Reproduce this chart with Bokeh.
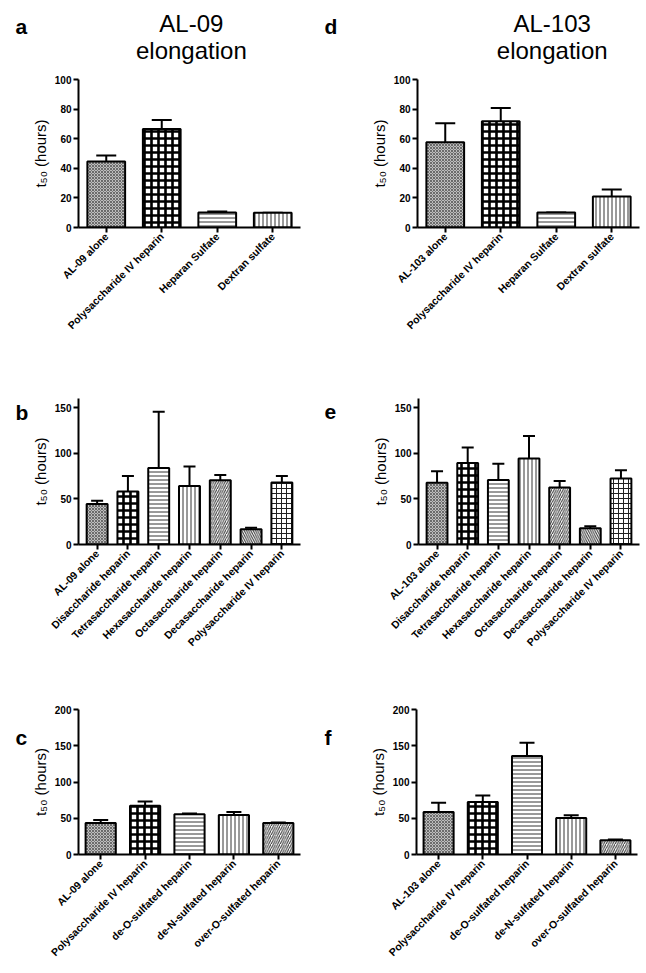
from math import pi
from bokeh.plotting import figure
from bokeh.models import ColumnDataSource, FactorRange, Range1d, Whisker, TeeHead, FixedTicker
from bokeh.core.properties import value
from bokeh.layouts import column, row
from bokeh.embed import file_html
from bokeh.resources import INLINE

FONT = "Liberation Sans"

# ---------------- data ----------------
a_cats = ["AL-09 alone", "Polysaccharide IV heparin", "Heparan Sulfate", "Dextran sulfate"]
a_vals = [44.6, 66.6, 10.2, 10.0]
a_errs = [4.0, 6.0, 0.6, 0.0]

d_cats = ["AL-103 alone", "Polysaccharide IV heparin", "Heparan Sulfate", "Dextran sulfate"]
d_vals = [57.6, 71.8, 10.2, 21.0]
d_errs = [12.8, 9.0, 0.0, 4.7]

b_cats = ["AL-09 alone", "Disaccharide heparin", "Tetrasaccharide heparin",
          "Hexasaccharide heparin", "Octasaccharide heparin", "Decasaccharide heparin",
          "Polysaccharide IV heparin"]
b_vals = [44.5, 58.2, 83.8, 64.0, 70.5, 16.6, 68.0]
b_errs = [3.5, 17.0, 61.8, 21.6, 5.8, 1.8, 7.2]

e_cats = ["AL-103 alone", "Disaccharide heparin", "Tetrasaccharide heparin",
          "Hexasaccharide heparin", "Octasaccharide heparin", "Decasaccharide heparin",
          "Polysaccharide IV heparin"]
e_vals = [67.6, 89.3, 70.8, 94.3, 62.5, 17.7, 72.3]
e_errs = [12.6, 16.9, 17.7, 24.6, 7.2, 2.2, 9.0]

c_cats = ["AL-09 alone", "Polysaccharide IV heparin", "de-O-sulfated heparin",
          "de-N-sulfated heparin", "over-O-sulfated heparin"]
c_vals = [43.6, 67.3, 55.5, 54.5, 43.6]
c_errs = [4.1, 5.9, 0.9, 4.1, 0.4]

f_cats = ["AL-103 alone", "Polysaccharide IV heparin", "de-O-sulfated heparin",
          "de-N-sulfated heparin", "over-O-sulfated heparin"]
f_vals = [58.6, 72.3, 135.9, 50.3, 19.7]
f_errs = [12.8, 9.2, 18.3, 3.7, 0.9]

ticks_100 = [0, 20, 40, 60, 80, 100]
ticks_150 = [0, 50, 100, 150]
ticks_200 = [0, 50, 100, 150, 200]

title_a = ["AL-09", "elongation"]
title_d = ["AL-103", "elongation"]

# bar pattern styles by position
STYLE_GRAY = dict(fill="#bdbdbd", hatch="diagonal_cross", scale=3.0, weight=0.8, hcolor="#555555")
STYLE_CHECK = dict(fill="white", hatch="cross", scale=7.0, weight=2.6, hcolor="black")
STYLE_H = dict(fill="white", hatch="horizontal_line", scale=4.0, weight=1.0, hcolor="#333333")
STYLE_V = dict(fill="white", hatch="vertical_line", scale=4.0, weight=1.0, hcolor="#333333")
STYLE_R = dict(fill="white", hatch="right_diagonal_line", scale=4.5, weight=1.0, hcolor="#333333")
STYLE_L = dict(fill="white", hatch="left_diagonal_line", scale=4.5, weight=1.0, hcolor="#333333")
STYLE_GRID = dict(fill="white", hatch="cross", scale=5.0, weight=1.0, hcolor="#222222")

styles_4 = [STYLE_GRAY, STYLE_CHECK, STYLE_H, STYLE_V]
styles_7 = [STYLE_GRAY, STYLE_CHECK, STYLE_H, STYLE_V, STYLE_R, STYLE_L, STYLE_GRID]
styles_5 = [STYLE_GRAY, STYLE_CHECK, STYLE_H, STYLE_V, STYLE_R]


def text_fig(x0, x1, y0, y1, items):
    """Blank figure whose data coordinates are page pixels (y downward)."""
    p = figure(width=x1 - x0, height=y1 - y0, x_range=Range1d(x0, x1), y_range=Range1d(y1, y0),
               x_axis_type=None, y_axis_type=None, min_border=0,
               output_backend="svg", toolbar_location=None)
    p.outline_line_color = None
    p.grid.visible = False
    for (tx, ty, txt, size, bold, align) in items:
        p.text(x=[tx], y=[ty], text=[txt], text_font=value(FONT), text_font_size=size,
               text_font_style="bold" if bold else "normal", text_color="black",
               text_align=align, text_baseline="alphabetic")
    return p


def panel(cats, vals, errs, styles, ymax, yticks, width, height, bl, br, bt, bb, pad, cap):
    p = figure(x_range=FactorRange(factors=cats, range_padding=pad),
               y_range=Range1d(0, ymax), width=width, height=height,
               min_border_left=bl, min_border_right=br, min_border_top=bt, min_border_bottom=bb,
               output_backend="svg", toolbar_location=None)
    p.outline_line_color = None
    p.grid.grid_line_color = None
    src = ColumnDataSource(dict(
        x=cats, top=vals, upper=[v + e for v, e in zip(vals, errs)],
        fill=[s["fill"] for s in styles], hatch=[s["hatch"] for s in styles],
        scale=[s["scale"] for s in styles], weight=[s["weight"] for s in styles],
        hcolor=[s["hcolor"] for s in styles]))
    w = Whisker(base="x", upper="upper", lower="top", source=src,
                upper_head=TeeHead(size=cap, line_width=2, line_color="black"),
                lower_head=None, line_width=2, line_color="black")
    w.level = "underlay"
    p.add_layout(w)
    p.vbar(x="x", top="top", bottom=0, width=0.68, source=src,
           fill_color="fill", hatch_pattern="hatch", hatch_scale="scale",
           hatch_weight="weight", hatch_color="hcolor",
           line_color="black", line_width=2)
    p.yaxis.ticker = FixedTicker(ticks=yticks)
    for ax in (p.xaxis[0], p.yaxis[0]):
        ax.axis_line_width = 2
        ax.axis_line_color = "black"
        ax.major_tick_line_width = 2
        ax.major_tick_line_color = "black"
        ax.major_tick_in = 0
        ax.minor_tick_line_color = None
        ax.major_label_text_color = "black"
        ax.major_label_text_font = FONT
        ax.major_label_text_font_style = "bold"
    p.yaxis.major_tick_out = 5
    p.yaxis.major_label_text_font_size = "10px"
    p.yaxis.major_label_standoff = 2
    p.xaxis.major_tick_out = 5
    p.xaxis.major_label_text_font_size = "10.5px"
    p.xaxis.major_label_orientation = pi / 4
    p.xaxis.major_label_standoff = 2
    p.yaxis.axis_label = "t\u2085\u2080 (hours)"
    p.yaxis.axis_label_text_font = FONT
    p.yaxis.axis_label_text_font_style = "normal"
    p.yaxis.axis_label_text_font_size = "15px"
    p.yaxis.axis_label_text_color = "black"
    p.yaxis.axis_label_standoff = 3
    return p


# ---------- row 1 (page y 0..345) ----------
la = text_fig(0, 28, 0, 345, [(15, 26, "a", "21px", True, "left")])
ha = text_fig(28, 323, 0, 71, [(178, 23, title_a[0], "24px", False, "center"),
                               (178, 50, title_a[1], "24px", False, "center")])
pa = panel(a_cats, a_vals, a_errs, styles_4, 100, ticks_100, 295, 274, 49, 23, 8, 118, 0.0, 20)

ld = text_fig(323, 345, 0, 345, [(324, 26, "d", "21px", True, "left")])
hd = text_fig(345, 640, 0, 71, [(524, 23, title_d[0], "24px", False, "center"),
                                (524, 50, title_d[1], "24px", False, "center")])
pd_ = panel(d_cats, d_vals, d_errs, styles_4, 100, ticks_100, 295, 274, 72, 1, 8, 118, 0.0, 20)

# ---------- row 2 (page y 345..655) ----------
lb = text_fig(0, 28, 345, 655, [(15, 374, "b", "21px", True, "left")])
pb = panel(b_cats, b_vals, b_errs, styles_7, 160, ticks_150, 295, 310, 45, 23, 53, 110, 0.03, 12)
le = text_fig(323, 345, 345, 655, [(324, 374, "e", "21px", True, "left")])
pe = panel(e_cats, e_vals, e_errs, styles_7, 160, ticks_150, 295, 310, 73, 1, 53, 110, 0.03, 12)

# ---------- row 3 (page y 655..965) ----------
lc = text_fig(0, 28, 655, 965, [(15, 715, "c", "21px", True, "left")])
pc = panel(c_cats, c_vals, c_errs, styles_5, 200, ticks_200, 295, 310, 49, 23, 54, 109, 0.0, 15)
lf = text_fig(323, 345, 655, 965, [(324, 715, "f", "21px", True, "left")])
pf = panel(f_cats, f_vals, f_errs, styles_5, 200, ticks_200, 295, 310, 71, 3, 54, 109, 0.0, 15)

layout = column(
    row(la, column(ha, pa), ld, column(hd, pd_)),
    row(lb, pb, le, pe),
    row(lc, pc, lf, pf),
)
open("out.html", "w").write(file_html(layout, INLINE))
